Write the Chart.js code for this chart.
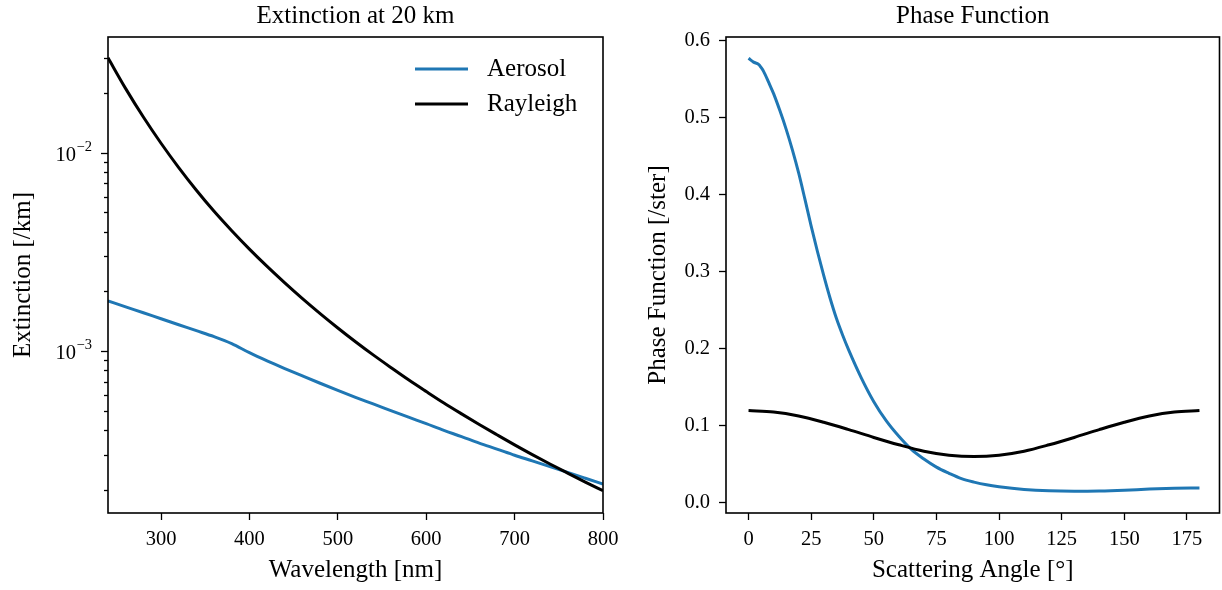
<!DOCTYPE html>
<html>
<head>
<meta charset="utf-8">
<title>Extinction and phase function</title>
<style>
  html, body { margin: 0; padding: 0; background: #fff; }
  #wrap { position: relative; width: 1222px; height: 590px; }
  canvas { position: absolute; top: 0; }
  #ext { left: 0; }
  #phase { left: 611px; }
</style>
</head>
<body>
<div id="wrap">
  <canvas id="ext" width="640" height="590"></canvas>
  <canvas id="phase" width="611" height="590"></canvas>
</div>
<script src="https://cdn.jsdelivr.net/npm/chart.js@4.4.3/dist/chart.umd.min.js"></script>
<script>
// extinction at 20 km, per wavelength [nm] -> [/km]
const wavelengths = [240, 260, 280, 300, 320, 340, 360, 380, 400, 420, 440, 460, 480, 500, 520,
  540, 560, 580, 600, 620, 640, 660, 680, 700, 720, 740, 760, 780, 800];
const aerosolExt = [0.001791, 0.001671, 0.001560, 0.001455, 0.001358, 0.001268, 0.001183, 0.001091,
  0.000982, 0.000893, 0.000817, 0.000750, 0.000689, 0.000634, 0.000585, 0.000542, 0.000502,
  0.000465, 0.000431, 0.000399, 0.000371, 0.000344, 0.000321, 0.000299, 0.000280, 0.000262,
  0.000245, 0.000229, 0.000214];
const rayleighExt = [0.0300, 0.02099, 0.0151, 0.01114, 0.00840, 0.00646, 0.00506, 0.00404,
  0.003265, 0.00267, 0.002206, 0.001838, 0.001545, 0.001308, 0.001115, 0.000957, 0.000827,
  0.000717, 0.000626, 0.000548, 0.000483, 0.000427, 0.000379, 0.000337, 0.000301, 0.000270,
  0.000243, 0.000219, 0.000198];

// phase functions vs scattering angle [deg] -> [/ster]
const aerosolAngles = [0, 2, 4, 5, 6, 8, 10, 12.5, 15, 17.5, 20, 22.5, 25, 27.5, 30, 32.5, 35,
  37.5, 40, 45, 50, 55, 60, 65, 70, 75, 80, 85, 90, 95, 100, 110, 120, 130, 140, 150, 160, 170, 180];
const aerosolPhase = [0.577, 0.572, 0.569, 0.565, 0.560, 0.546, 0.531, 0.509, 0.485, 0.458, 0.428,
  0.394, 0.359, 0.326, 0.295, 0.266, 0.240, 0.218, 0.198, 0.162, 0.131, 0.106, 0.086, 0.069,
  0.0565, 0.046, 0.038, 0.031, 0.0265, 0.023, 0.0205, 0.017, 0.0152, 0.0147, 0.015, 0.016,
  0.0175, 0.0185, 0.019];
const rayleighAngles = [0, 10, 20, 30, 40, 50, 60, 70, 80, 90, 100, 110, 120, 130, 140, 150, 160, 170, 180];
const rayleighPhase = [0.1194, 0.1177, 0.1125, 0.1043, 0.0947, 0.0845, 0.0750, 0.0667, 0.0615,
  0.0597, 0.0615, 0.0667, 0.0750, 0.0845, 0.0947, 0.1043, 0.1125, 0.1177, 0.1194];

// tick positions
const extXTicks = [300, 400, 500, 600, 700, 800];
const extYTicks = [2e-4, 3e-4, 4e-4, 5e-4, 6e-4, 7e-4, 8e-4, 9e-4,
  1e-3, 2e-3, 3e-3, 4e-3, 5e-3, 6e-3, 7e-3, 8e-3, 9e-3, 1e-2, 2e-2, 3e-2];
const phaseXTicks = [0, 25, 50, 75, 100, 125, 150, 175];
const phaseYTicks = [0, 0.1, 0.2, 0.3, 0.4, 0.5, 0.6];

const BLUE = '#1f77b4';
const FONT = "'Liberation Serif', 'Times New Roman', serif";
const LABEL_SIZE = 25;
const TICK_SIZE = 20.5;

Chart.defaults.font.family = FONT;
Chart.defaults.color = '#000';

const toXY = (xs, ys) => xs.map((x, i) => ({ x, y: ys[i] }));
const isDecade = (v) => Math.abs(Math.log10(v) - Math.round(Math.log10(v))) < 1e-9;

// black box around the plotting area
const frame = {
  id: 'frame',
  afterDraw(chart) {
    const { ctx, chartArea: a } = chart;
    ctx.save();
    ctx.strokeStyle = '#000';
    ctx.lineWidth = 1.6;
    ctx.strokeRect(a.left, a.top, a.right - a.left, a.bottom - a.top);
    ctx.restore();
  }
};

// log axis: long ticks on decades with 10^n labels, short ticks in between
const logTicks = {
  id: 'logTicks',
  afterDraw(chart) {
    const { ctx, chartArea: a } = chart;
    const scale = chart.scales.y;
    ctx.save();
    ctx.strokeStyle = '#000';
    ctx.fillStyle = '#000';
    ctx.lineWidth = 1.3;
    ctx.textBaseline = 'middle';
    ctx.textAlign = 'right';
    scale.ticks.forEach((t) => {
      const py = Math.round(scale.getPixelForValue(t.value)) + 0.5;
      const major = isDecade(t.value);
      const len = major ? 7 : 4;
      ctx.beginPath();
      ctx.moveTo(a.left - len, py);
      ctx.lineTo(a.left, py);
      ctx.stroke();
      if (major) {
        const exp = Math.round(Math.log10(t.value));
        const expText = (exp < 0 ? '\u2212' : '') + Math.abs(exp);
        const xr = a.left - 16;
        ctx.font = `14.5px ${FONT}`;
        ctx.fillText(expText, xr, py - 6);
        const w = ctx.measureText(expText).width;
        ctx.font = `${TICK_SIZE}px ${FONT}`;
        ctx.fillText('10', xr - w - 0.5, py + 2);
      }
    });
    ctx.restore();
  }
};

// legend in the upper right corner of the plotting area
const legendBox = {
  id: 'legendBox',
  afterDraw(chart) {
    const { ctx, chartArea: a } = chart;
    ctx.save();
    ctx.font = `${LABEL_SIZE}px ${FONT}`;
    ctx.textBaseline = 'middle';
    ctx.textAlign = 'left';
    chart.data.datasets.forEach((ds, i) => {
      const y = a.top + 32 + i * 35;
      ctx.strokeStyle = ds.borderColor;
      ctx.lineWidth = ds.borderWidth;
      ctx.beginPath();
      ctx.moveTo(a.right - 188, y);
      ctx.lineTo(a.right - 135, y);
      ctx.stroke();
      ctx.fillStyle = '#000';
      ctx.fillText(ds.label, a.right - 116, y);
    });
    ctx.restore();
  }
};

const titleFont = { size: LABEL_SIZE, weight: 'normal' };
const tickFont = { size: TICK_SIZE };
const tickGrid = { drawOnChartArea: false, drawTicks: true, tickLength: 7, tickColor: '#000', tickWidth: 1.3 };

// keep the x axis from reserving room for the end labels
function fixXAxis(s) {
  s.height = 77;
  s.paddingLeft = 0;
  s.paddingRight = 0;
}

function lineSet(label, data, color, order) {
  return {
    label, data, order,
    borderColor: color,
    borderWidth: 3,
    pointRadius: 0,
    fill: false,
    cubicInterpolationMode: 'monotone'
  };
}

new Chart(document.getElementById('ext'), {
  type: 'line',
  data: {
    datasets: [
      lineSet('Aerosol', toXY(wavelengths, aerosolExt), BLUE, 1),
      lineSet('Rayleigh', toXY(wavelengths, rayleighExt), '#000', 0)
    ]
  },
  options: {
    responsive: false,
    animation: false,
    events: [],
    layout: { padding: { left: 0, right: 37, top: 0, bottom: 0 } },
    plugins: {
      legend: { display: false },
      tooltip: { enabled: false },
      title: {
        display: true,
        text: 'Extinction at 20 km',
        font: titleFont,
        color: '#000',
        fullSize: false,
        padding: { top: 1, bottom: 6 }
      }
    },
    scales: {
      x: {
        type: 'linear',
        min: 240,
        max: 800,
        afterBuildTicks: (s) => { s.ticks = extXTicks.map((v) => ({ value: v })); },
        afterFit: fixXAxis,
        ticks: { font: tickFont, padding: 7, maxRotation: 0 },
        grid: tickGrid,
        border: { display: false },
        title: { display: true, text: 'Wavelength [nm]', font: titleFont, padding: { top: 0, bottom: 4.5 } }
      },
      y: {
        type: 'logarithmic',
        min: 1.53e-4,
        max: 3.82e-2,
        afterBuildTicks: (s) => { s.ticks = extYTicks.map((v) => ({ value: v, major: isDecade(v) })); },
        afterFit: (s) => { s.width = 108; },
        ticks: { display: false },
        grid: { display: false },
        border: { display: false },
        title: { display: true, text: 'Extinction [/km]', font: titleFont, padding: { top: 8, bottom: 0 } }
      }
    }
  },
  plugins: [frame, logTicks, legendBox]
});

new Chart(document.getElementById('phase'), {
  type: 'line',
  data: {
    datasets: [
      lineSet('Aerosol', toXY(aerosolAngles, aerosolPhase), BLUE, 1),
      lineSet('Rayleigh', toXY(rayleighAngles, rayleighPhase), '#000', 0)
    ]
  },
  options: {
    responsive: false,
    animation: false,
    events: [],
    layout: { padding: { left: 0, right: 2.5, top: 0, bottom: 0 } },
    plugins: {
      legend: { display: false },
      tooltip: { enabled: false },
      title: {
        display: true,
        text: 'Phase Function',
        font: titleFont,
        color: '#000',
        fullSize: false,
        padding: { top: 1, bottom: 6 }
      }
    },
    scales: {
      x: {
        type: 'linear',
        min: -9,
        max: 188,
        afterBuildTicks: (s) => { s.ticks = phaseXTicks.map((v) => ({ value: v })); },
        afterFit: fixXAxis,
        ticks: { font: tickFont, padding: 7, maxRotation: 0 },
        grid: tickGrid,
        border: { display: false },
        title: { display: true, text: 'Scattering Angle [°]', font: titleFont, padding: { top: 0, bottom: 4.5 } }
      },
      y: {
        type: 'linear',
        min: -0.0136,
        max: 0.6046,
        afterBuildTicks: (s) => { s.ticks = phaseYTicks.map((v) => ({ value: v })); },
        afterFit: (s) => { s.width = 115; },
        ticks: { font: tickFont, padding: 9, callback: (v) => Number(v).toFixed(1) },
        grid: tickGrid,
        border: { display: false },
        title: { display: true, text: 'Phase Function [/ster]', font: titleFont, padding: { top: 32, bottom: 0 } }
      }
    }
  },
  plugins: [frame]
});
</script>
</body>
</html>
